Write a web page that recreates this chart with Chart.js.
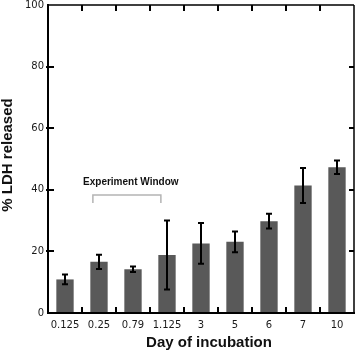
<!DOCTYPE html>
<html>
<head>
<meta charset="utf-8">
<script src="https://cdn.jsdelivr.net/npm/chart.js@4/dist/chart.umd.min.js"></script>
<style>
  html, body { margin: 0; padding: 0; background: #fff; }
  #wrap { width: 358px; height: 353px; }
</style>
</head>
<body>
<div id="wrap"><canvas id="ldhChart" width="358" height="353"></canvas></div>
<script>
// Data
const days = ['0.125', '0.25', '0.79', '1.125', '3', '5', '6', '7', '10'];
const ldhReleased = [10.9, 16.6, 14.2, 18.8, 22.6, 23.1, 29.8, 41.4, 47.3];
const ldhError = [1.6, 2.3, 0.9, 11.2, 6.6, 3.4, 2.4, 5.7, 2.2];
const yTickValues = [0, 20, 40, 60, 80, 100];

const annotationLabel = 'Experiment Window';
const xTitle = 'Day of incubation';
const yTitle = '% LDH released';

const FONT = '"Liberation Sans", Arial, sans-serif';
const TICK_FONT = '"DejaVu Sans", sans-serif';

// error bars, frame, inward ticks, bracket and axis titles
const decorPlugin = {
    id: 'decor',
    afterDatasetsDraw(chart) {
        const { ctx, scales: { y } } = chart;
        ctx.save();
        ctx.strokeStyle = '#000';
        ctx.lineWidth = 2;
        chart.getDatasetMeta(0).data.forEach((bar, i) => {
            const hi = y.getPixelForValue(ldhReleased[i] + ldhError[i]);
            const lo = y.getPixelForValue(ldhReleased[i] - ldhError[i]);
            ctx.beginPath();
            ctx.moveTo(bar.x, hi); ctx.lineTo(bar.x, lo);
            ctx.moveTo(bar.x - 3, hi); ctx.lineTo(bar.x + 3, hi);
            ctx.moveTo(bar.x - 3, lo); ctx.lineTo(bar.x + 3, lo);
            ctx.stroke();
        });
        ctx.restore();
    },
    afterDraw(chart) {
        const { ctx, chartArea: a, scales: { x, y } } = chart;
        ctx.save();
        ctx.strokeStyle = '#000';

        // frame
        ctx.lineWidth = 1.5;
        ctx.beginPath();
        ctx.moveTo(a.left, a.top); ctx.lineTo(a.right, a.top);
        ctx.moveTo(a.right, a.top); ctx.lineTo(a.right, a.bottom);
        ctx.stroke();
        ctx.lineWidth = 2;
        ctx.beginPath();
        ctx.moveTo(a.left, a.top - 1); ctx.lineTo(a.left, a.bottom);
        ctx.lineTo(a.right + 1, a.bottom);
        ctx.stroke();

        // x ticks between categories, top and bottom, pointing in
        ctx.lineWidth = 2;
        ctx.beginPath();
        for (let i = 0; i < days.length - 1; i++) {
            const px = Math.round((x.getPixelForValue(i) + x.getPixelForValue(i + 1)) / 2);
            ctx.moveTo(px, a.bottom); ctx.lineTo(px, a.bottom - 6);
            ctx.moveTo(px, a.top); ctx.lineTo(px, a.top + 6);
        }
        // y ticks left and right
        yTickValues.slice(1, -1).forEach(v => {
            const py = Math.round(y.getPixelForValue(v));
            ctx.moveTo(a.left - 2, py); ctx.lineTo(a.left + 6, py);
            ctx.moveTo(a.right, py); ctx.lineTo(a.right - 5, py);
        });
        ctx.stroke();

        // experiment window bracket
        const bx0 = x.getPixelForValue(0.82);
        const bx1 = x.getPixelForValue(2.82);
        const byTop = y.getPixelForValue(38.3);
        const byEnd = y.getPixelForValue(35.7);
        ctx.strokeStyle = '#b4b4b4';
        ctx.lineWidth = 1.5;
        ctx.beginPath();
        ctx.moveTo(bx0, byEnd); ctx.lineTo(bx0, byTop);
        ctx.lineTo(bx1, byTop); ctx.lineTo(bx1, byEnd);
        ctx.stroke();

        ctx.fillStyle = '#111';
        ctx.font = 'bold 10px ' + FONT;
        ctx.textAlign = 'center';
        ctx.textBaseline = 'middle';
        ctx.fillText(annotationLabel, x.getPixelForValue(1.935), y.getPixelForValue(42.6));

        // axis titles
        ctx.font = 'bold 15px ' + FONT;
        ctx.fillText(xTitle, (a.left + a.right) / 2 + 8, 343);
        ctx.translate(8, 155);
        ctx.rotate(-Math.PI / 2);
        ctx.fillText(yTitle, 0, 0);
        ctx.restore();
    }
};

new Chart(document.getElementById('ldhChart').getContext('2d'), {
    type: 'bar',
    data: {
        labels: days,
        datasets: [{
            label: '% LDH released',
            data: ldhReleased,
            backgroundColor: '#595959',
            borderWidth: 0,
            categoryPercentage: 1,
            barPercentage: 0.51
        }]
    },
    options: {
        responsive: false,
        animation: false,
        devicePixelRatio: 1,
        layout: { padding: { top: 5, right: 4, left: 0, bottom: 0 } },
        plugins: { legend: { display: false }, tooltip: { enabled: false } },
        scales: {
            x: {
                grid: { display: false, drawTicks: false },
                border: { display: false },
                ticks: { color: '#1a1a1a', font: { family: TICK_FONT, size: 10 }, padding: 6, maxRotation: 0, autoSkip: false },
                afterFit: s => { s.height = 40; s.paddingLeft = 0; s.paddingRight = 0; }
            },
            y: {
                min: 0, max: 100,
                grid: { display: false, drawTicks: false },
                border: { display: false },
                ticks: { stepSize: 20, color: '#1a1a1a', font: { family: TICK_FONT, size: 10 }, padding: 4 },
                afterFit: s => { s.width = 48; s.paddingTop = 0; s.paddingBottom = 0; }
            }
        }
    },
    plugins: [decorPlugin]
});
</script>
</body>
</html>
